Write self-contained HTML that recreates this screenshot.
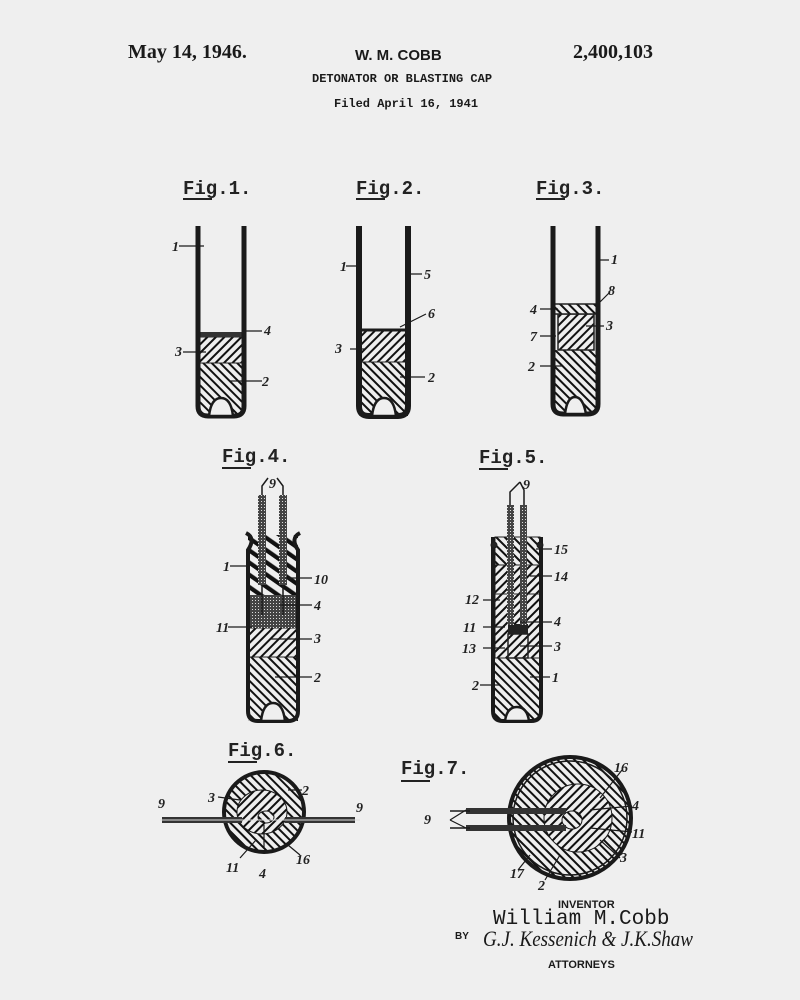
<!DOCTYPE html>
<html><head><meta charset="utf-8"><style>
html,body{margin:0;padding:0;background:#efefef;}
svg{display:block}
.l{font-family:"Liberation Serif",serif;font-style:italic;font-weight:bold;font-size:14px;fill:#222}
.fg{font-family:"Liberation Mono",monospace;font-weight:bold;font-size:19px;fill:#222}
</style></head><body>
<svg width="800" height="1000" viewBox="0 0 800 1000" xmlns="http://www.w3.org/2000/svg">
<defs>
<pattern id="hA" width="6" height="6" patternUnits="userSpaceOnUse" patternTransform="rotate(45)"><rect width="6" height="6" fill="#eee"/><line x1="1" y1="0" x2="1" y2="6" stroke="#111" stroke-width="2"/></pattern>
<pattern id="hB" width="6" height="6" patternUnits="userSpaceOnUse" patternTransform="rotate(-45)"><rect width="6" height="6" fill="#eee"/><line x1="1" y1="0" x2="1" y2="6" stroke="#111" stroke-width="2"/></pattern>
<pattern id="hC" width="10" height="10" patternUnits="userSpaceOnUse" patternTransform="rotate(-55)"><rect width="10" height="10" fill="#eee"/><line x1="2" y1="0" x2="2" y2="10" stroke="#111" stroke-width="4.5"/></pattern>
<pattern id="dt" width="3" height="3" patternUnits="userSpaceOnUse"><rect width="3" height="3" fill="#444"/><rect width="1" height="1" fill="#ddd"/></pattern>
</defs>
<rect width="800" height="1000" fill="#efefef"/>
<g font-family="Liberation Serif,serif" font-weight="bold" fill="#1a1a1a">
<text x="128" y="58" font-size="20">May 14, 1946.</text>
<text x="355" y="60" font-size="15" font-family="Liberation Sans,sans-serif">W. M. COBB</text>
<text x="573" y="58" font-size="20">2,400,103</text>
</g>
<g font-family="Liberation Mono,monospace" font-weight="bold" font-size="12" fill="#1a1a1a">
<text x="312" y="82">DETONATOR OR BLASTING CAP</text>
<text x="334" y="107">Filed April 16, 1941</text>
</g>
<g class="fg">
<text x="183" y="194" class="fg">Fig.1.</text><line x1="183" y1="199" x2="212" y2="199" stroke="#222" stroke-width="2"/>
<text x="356" y="194" class="fg">Fig.2.</text><line x1="356" y1="199" x2="385" y2="199" stroke="#222" stroke-width="2"/>
<text x="536" y="194" class="fg">Fig.3.</text><line x1="536" y1="199" x2="565" y2="199" stroke="#222" stroke-width="2"/>
<text x="222" y="462" class="fg">Fig.4.</text><line x1="222" y1="468" x2="251" y2="468" stroke="#222" stroke-width="2"/>
<text x="479" y="463" class="fg">Fig.5.</text><line x1="479" y1="469" x2="508" y2="469" stroke="#222" stroke-width="2"/>
<text x="228" y="756" class="fg">Fig.6.</text><line x1="228" y1="762" x2="257" y2="762" stroke="#222" stroke-width="2"/>
<text x="401" y="774" class="fg">Fig.7.</text><line x1="401" y1="781" x2="430" y2="781" stroke="#222" stroke-width="2"/>
</g>
<g stroke="#1a1a1a" fill="none">
<!-- Fig1 -->
<rect x="198" y="363" width="46" height="53" fill="url(#hB)" stroke="none"/>
<rect x="198" y="337" width="46" height="26" fill="url(#hA)" stroke="#222" stroke-width="1"/>
<rect x="198" y="332" width="46" height="5" fill="#333" stroke="none"/>
<path d="M198,226 V406 Q198,416 208,416 H234 Q244,416 244,406 V226" stroke-width="5"/>
<path d="M209,416 Q211,398 221,398 Q231,398 233,416 Z" fill="#efefef" stroke-width="2.5"/>
<!-- Fig2 -->
<rect x="359" y="362" width="49" height="54" fill="url(#hB)" stroke="none"/>
<rect x="359" y="330" width="49" height="32" fill="url(#hA)" stroke="#222" stroke-width="1"/>
<line x1="359" y1="330" x2="408" y2="330" stroke-width="3"/>
<path d="M359,226 V406 Q359,416 369,416 H398 Q408,416 408,406 V226" stroke-width="6"/>
<path d="M372,416 Q374,398 384,398 Q394,398 396,416 Z" fill="#efefef" stroke-width="2.5"/>
<!-- Fig3 -->
<rect x="553" y="350" width="45" height="64" fill="url(#hB)" stroke="none"/>
<rect x="558" y="314" width="36" height="36" fill="url(#hA)" stroke="#222" stroke-width="1.5"/>
<rect x="553" y="304" width="45" height="10" fill="url(#hB)" stroke="#222" stroke-width="1.5"/>
<path d="M553,226 V404 Q553,414 563,414 H588 Q598,414 598,404 V226" stroke-width="5"/>
<path d="M565,414 Q567,397 575,397 Q583,397 586,414 Z" fill="#efefef" stroke-width="2.5"/>
<!-- Fig4 -->
<rect x="248" y="657" width="50" height="64" fill="url(#hB)" stroke="none"/>
<rect x="248" y="628" width="50" height="29" fill="url(#hA)" stroke="#222" stroke-width="1"/>
<rect x="248" y="595" width="50" height="33" fill="url(#dt)" stroke="none"/>
<rect x="248" y="535" width="50" height="60" fill="url(#hC)" stroke="none"/>
<path d="M246,533 Q256,538 248,550 V711 Q248,721 258,721 H288 Q298,721 298,711 V550 Q290,538 300,533" stroke-width="4"/>
<rect x="258" y="495" width="8" height="90" fill="url(#dt)" stroke="none"/>
<rect x="279" y="495" width="8" height="90" fill="url(#dt)" stroke="none"/>
<path d="M262,495 V486 L268,478 M283,495 V486 L277,478" stroke-width="1.5"/>
<path d="M262,585 V615 M283,585 V615" stroke-width="1.5"/>
<path d="M261,721 Q263,703 273,703 Q283,703 285,721 Z" fill="#efefef" stroke-width="2.5"/>
<!-- Fig5 -->
<rect x="495" y="658" width="45" height="63" fill="url(#hB)" stroke="none"/>
<rect x="495" y="594" width="45" height="64" fill="url(#hA)" stroke="#222" stroke-width="1"/>
<rect x="508" y="624" width="20" height="10" fill="#222" stroke="none"/>
<rect x="508" y="634" width="20" height="24" fill="url(#hA)" stroke="#222" stroke-width="1.5"/>
<rect x="495" y="565" width="45" height="29" fill="url(#hA)" stroke="#222" stroke-width="1"/>
<rect x="495" y="537" width="45" height="28" fill="url(#hB)" stroke="#222" stroke-width="1"/>
<path d="M493,537 V711 Q493,721 503,721 H531 Q541,721 541,711 V537" stroke-width="4"/>
<circle cx="494" cy="545" r="3" fill="#222"/><circle cx="540" cy="545" r="3" fill="#222"/>
<rect x="507" y="505" width="7" height="120" fill="url(#dt)" stroke="none"/>
<rect x="520" y="505" width="7" height="120" fill="url(#dt)" stroke="none"/>
<path d="M510,505 V492 L520,482 M524,505 V490 L520,482" stroke-width="1.5"/>
<path d="M505,721 Q507,707 517,707 Q527,707 529,721 Z" fill="#efefef" stroke-width="2.5"/>
<!-- Fig6 -->
<circle cx="264" cy="812" r="40" fill="url(#hB)" stroke-width="4"/>
<ellipse cx="262" cy="812" rx="25" ry="22" fill="url(#hA)" stroke-width="1"/>
<ellipse cx="266" cy="817" rx="8" ry="6" fill="url(#hB)" stroke-width="1"/>
<rect x="162" y="817" width="80" height="6" fill="#333" stroke="none"/>
<rect x="285" y="817" width="70" height="6" fill="#333" stroke="none"/>
<line x1="160" y1="820" x2="360" y2="820" stroke="#ddd" stroke-width="1"/>
<!-- Fig7 -->
<circle cx="570" cy="818" r="61" fill="url(#hB)" stroke-width="4"/>
<circle cx="570" cy="818" r="57" stroke-width="1.5"/>
<circle cx="578" cy="818" r="34" fill="url(#hA)" stroke-width="1"/>
<ellipse cx="572" cy="820" rx="10" ry="9" fill="url(#hB)" stroke-width="1"/>
<rect x="466" y="808" width="100" height="6" fill="#333" stroke="none"/>
<rect x="466" y="825" width="100" height="6" fill="#333" stroke="none"/>
<line x1="450" y1="811" x2="470" y2="811" stroke-width="1.5"/>
<line x1="450" y1="828" x2="470" y2="828" stroke-width="1.5"/>
<g stroke-width="1.2">
<path d="M179,246 H204 M183,352 H206 M246,331 H262 M230,381 H262"/>
<path d="M346,266 H361 M405,274 H422 M366,349 H350 M400,327 L426,314 M400,377 H425"/>
<path d="M597,260 H609 M599,303 L610,292 M586,326 H604 M540,309 H558 M540,336 H556 M540,366 H562"/>
<path d="M230,566 H250 M285,578 H312 M280,605 H312 M228,627 H252 M270,639 H312 M275,677 H312"/>
<path d="M536,549 H552 M530,576 H552 M483,600 H500 M483,627 H505 M520,622 H552 M483,648 H505 M520,646 H552 M480,685 H500 M530,677 H550"/>
<path d="M218,797 L240,800 M288,790 L302,790 M256,840 L240,858 M264,825 V848 M288,845 L300,855"/>
<path d="M450,820 L466,810 M450,820 L466,828 M600,798 L622,770 M590,810 L632,806 M590,828 L632,832 M600,840 L620,858 M530,855 L518,870 M560,855 L545,880"/>
</g>
</g>
<g class="l">
<text x="172" y="251">1</text><text x="175" y="356">3</text><text x="264" y="335">4</text><text x="262" y="386">2</text>
<text x="340" y="271">1</text><text x="424" y="279">5</text><text x="335" y="353">3</text><text x="428" y="318">6</text><text x="428" y="382">2</text>
<text x="611" y="264">1</text><text x="608" y="295">8</text><text x="530" y="314">4</text><text x="606" y="330">3</text><text x="530" y="341">7</text><text x="528" y="371">2</text>
<text x="269" y="488">9</text><text x="223" y="571">1</text><text x="314" y="584">10</text><text x="314" y="610">4</text><text x="216" y="632">11</text><text x="314" y="643">3</text><text x="314" y="682">2</text>
<text x="523" y="489">9</text><text x="554" y="554">15</text><text x="554" y="581">14</text><text x="465" y="604">12</text><text x="463" y="632">11</text><text x="554" y="626">4</text><text x="462" y="653">13</text><text x="554" y="651">3</text><text x="472" y="690">2</text><text x="552" y="682">1</text>
<text x="208" y="802">3</text><text x="302" y="795">2</text><text x="158" y="808">9</text><text x="356" y="812">9</text><text x="226" y="872">11</text><text x="259" y="878">4</text><text x="296" y="864">16</text>
<text x="424" y="824">9</text><text x="614" y="772">16</text><text x="632" y="810">4</text><text x="632" y="838">11</text><text x="620" y="862">3</text><text x="510" y="878">17</text><text x="538" y="890">2</text>
</g>
<g fill="#1a1a1a">
<text x="558" y="908" font-family="Liberation Sans,sans-serif" font-weight="bold" font-size="11">INVENTOR</text>
<text x="493" y="924" font-family="Liberation Mono,monospace" font-size="21">William M.Cobb</text>
<text x="455" y="939" font-family="Liberation Sans,sans-serif" font-weight="bold" font-size="10">BY</text>
<text x="483" y="946" font-family="Liberation Serif,serif" font-style="italic" font-size="22" textLength="210" lengthAdjust="spacingAndGlyphs">G.J. Kessenich &amp; J.K.Shaw</text>
<text x="548" y="968" font-family="Liberation Sans,sans-serif" font-weight="bold" font-size="11">ATTORNEYS</text>
</g>
</svg>
</body></html>
